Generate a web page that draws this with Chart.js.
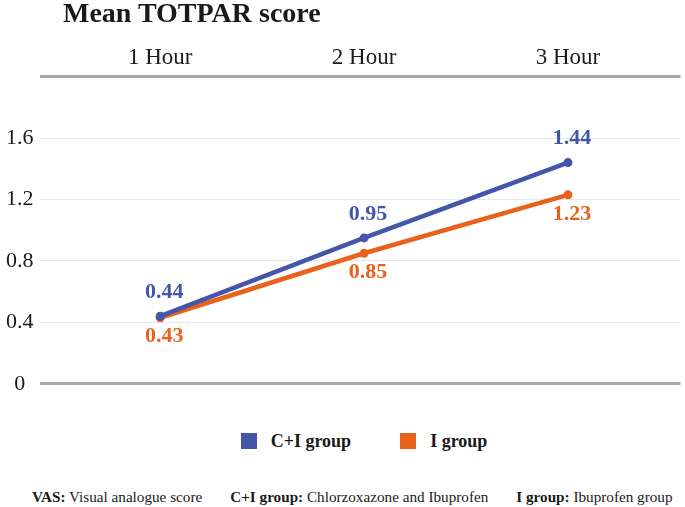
<!DOCTYPE html>
<html>
<head>
<meta charset="utf-8">
<script src="https://cdn.jsdelivr.net/npm/chart.js@4.4.1/dist/chart.umd.min.js"></script>
<style>
    html, body { margin: 0; padding: 0; background: #fff; }
    #wrap { position: relative; width: 685px; height: 507px; overflow: hidden; font-family: "Liberation Serif", "Times New Roman", serif; color: #1a1a1a; }
    #title { position: absolute; left: 63px; top: -1px; font-size: 28px; font-weight: bold; line-height: 1; white-space: nowrap; }
    #chartBox { position: absolute; left: 0; top: 0; width: 685px; height: 403px; }
    #legend { position: absolute; left: 21px; top: 432px; width: 685px; display: flex; justify-content: center; font-size: 18px; font-weight: bold; line-height: 18px; }
    #legend .item { display: flex; align-items: center; margin: 0 24px 0 25px; }
    #legend .box { width: 16px; height: 16px; margin-right: 14px; }
    #foot { position: absolute; left: 32px; top: 489px; font-size: 15.2px; line-height: 1; white-space: nowrap; }
    #foot .gap { display: inline-block; width: 28px; }
</style>
</head>
<body>
<div id="wrap">
    <div id="chartBox"><canvas id="chart"></canvas></div>
    <div id="title">Mean TOTPAR score</div>
    <div id="legend"></div>
    <div id="foot"><b>VAS:</b> Visual analogue score<span class="gap"></span><b>C+I group:</b> Chlorzoxazone and Ibuprofen<span class="gap"></span><b>I group:</b> Ibuprofen group</div>
</div>
<script>
    "use strict";

    // data
    const hours = ['1 Hour', '2 Hour', '3 Hour'];
    const seriesNames = ['C+I group', 'I group'];
    const ciGroup = [0.44, 0.95, 1.44];
    const iGroup = [0.43, 0.85, 1.23];
    const yTicks = [0, 0.4, 0.8, 1.2, 1.6, 2.0];

    const BLUE = '#4356a8';
    const ORANGE = '#e8621c';
    const SERIF = '"Liberation Serif", "Times New Roman", serif';

    function toPoints(values) {
        return values.map(function (v, i) { return { x: i + 1, y: v }; });
    }

    // value labels: first series above its points, second below
    const valueLabels = {
        id: 'valueLabels',
        afterDatasetsDraw: function (chart) {
            var ctx = chart.ctx;
            ctx.save();
            ctx.font = 'bold 22px ' + SERIF;
            ctx.textAlign = 'center';
            ctx.textBaseline = 'middle';
            chart.data.datasets.forEach(function (ds, di) {
                var meta = chart.getDatasetMeta(di);
                ctx.fillStyle = ds.borderColor;
                meta.data.forEach(function (pt, i) {
                    var dy = di === 0 ? -24 : 19;
                    ctx.fillText(ds.data[i].y.toFixed(2), pt.x + 4, pt.y + dy);
                });
            });
            ctx.restore();
        }
    };

    const chart = new Chart(document.getElementById('chart'), {
        type: 'line',
        data: {
            datasets: [
                {
                    label: seriesNames[0],
                    data: toPoints(ciGroup),
                    borderColor: BLUE,
                    backgroundColor: BLUE,
                    borderWidth: 4.5,
                    pointRadius: 4.5,
                    pointBackgroundColor: BLUE,
                    pointBorderWidth: 0,
                    tension: 0
                },
                {
                    label: seriesNames[1],
                    data: toPoints(iGroup),
                    borderColor: ORANGE,
                    backgroundColor: ORANGE,
                    borderWidth: 4.5,
                    pointRadius: 4.5,
                    pointBackgroundColor: ORANGE,
                    pointBorderWidth: 0,
                    tension: 0
                }
            ]
        },
        options: {
            responsive: true,
            maintainAspectRatio: false,
            animation: false,
            layout: { padding: { top: 47, right: 0, bottom: 6, left: 0 } },
            plugins: {
                legend: { display: false },
                tooltip: { enabled: false }
            },
            scales: {
                x: {
                    type: 'linear',
                    position: 'top',
                    min: 0.408,
                    max: 3.552,
                    afterBuildTicks: function (scale) {
                        scale.ticks = hours.map(function (h, i) { return { value: i + 1 }; });
                    },
                    ticks: {
                        padding: -3,
                        color: '#1a1a1a',
                        font: { family: SERIF, size: 23 },
                        maxRotation: 0,
                        callback: function (v) { return hours[v - 1]; }
                    },
                    grid: { display: false },
                    border: { display: false }
                },
                y: {
                    min: 0,
                    max: 2,
                    afterBuildTicks: function (scale) {
                        scale.ticks = yTicks.map(function (v) { return { value: v }; });
                    },
                    ticks: {
                        padding: 6,
                        crossAlign: 'center',
                        color: '#1a1a1a',
                        font: { family: SERIF, size: 22 },
                        callback: function (v) { return v >= 2 ? '' : String(+v.toFixed(1)); }
                    },
                    grid: {
                        drawTicks: false,
                        color: function (c) {
                            var v = c.tick ? c.tick.value : null;
                            return (v === 0 || v === 2) ? '#a8a8a8' : '#e9e9e9';
                        },
                        lineWidth: function (c) {
                            var v = c.tick ? c.tick.value : null;
                            return (v === 0 || v === 2) ? 3 : 1;
                        }
                    },
                    border: { display: false }
                }
            }
        },
        plugins: [valueLabels]
    });

    // legend built from the chart's datasets
    var legendEl = document.getElementById('legend');
    chart.data.datasets.forEach(function (ds) {
        var item = document.createElement('div');
        item.className = 'item';
        var box = document.createElement('span');
        box.className = 'box';
        box.style.background = ds.backgroundColor;
        var txt = document.createElement('span');
        txt.textContent = ds.label;
        item.appendChild(box);
        item.appendChild(txt);
        legendEl.appendChild(item);
    });
</script>
</body>
</html>
